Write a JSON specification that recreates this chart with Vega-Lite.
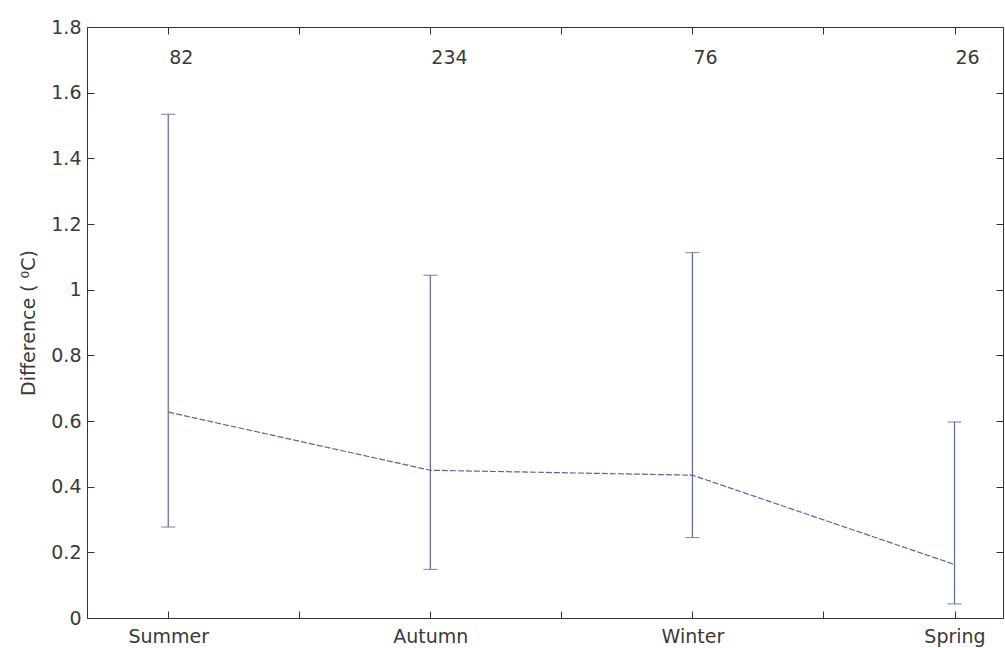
{
  "$schema": "https://vega.github.io/schema/vega-lite/v6.json",
  "width": 916,
  "height": 591,
  "autosize": {"type": "none"},
  "padding": {"left": 87, "top": 27, "right": 2, "bottom": 30},
  "background": "white",
  "config": {
    "view": {"stroke": null},
    "font": "DejaVu Sans",
    "axis": {
      "grid": false,
      "domainColor": "#333333",
      "tickColor": "#333333",
      "labelColor": "#3a3a3a",
      "labelFont": "DejaVu Sans",
      "labelFontSize": 19,
      "titleFont": "DejaVu Sans",
      "titleFontSize": 19,
      "titleFontWeight": "normal",
      "titleColor": "#3a3a3a"
    }
  },
  "data": {
    "values": [
      {"season": "Summer", "x": 1, "mean": 0.627, "lo": 0.277, "hi": 1.534, "n": "82", "ty": 1.705},
      {"season": "Autumn", "x": 2, "mean": 0.45, "lo": 0.148, "hi": 1.044, "n": "234", "ty": 1.705},
      {"season": "Winter", "x": 3, "mean": 0.435, "lo": 0.245, "hi": 1.113, "n": "76", "ty": 1.705},
      {"season": "Spring", "x": 4, "mean": 0.163, "lo": 0.043, "hi": 0.597, "n": "26", "ty": 1.705}
    ]
  },
  "resolve": {"axis": {"x": "independent", "y": "independent"}},
  "layer": [
    {
      "mark": {"type": "line", "color": "#5a6898", "strokeWidth": 1.2, "strokeDash": [6, 2]},
      "encoding": {
        "x": {
          "field": "x", "type": "quantitative",
          "scale": {"domain": [0.69, 4.185], "nice": false, "zero": false},
          "axis": {
            "orient": "bottom", "title": null,
            "values": [1, 1.5, 2, 2.5, 3, 3.5, 4],
            "labelExpr": "datum.value==1?'Summer':datum.value==2?'Autumn':datum.value==3?'Winter':datum.value==4?'Spring':''",
            "tickSize": -7, "labelPadding": 16, "labelFlush": false
          }
        },
        "y": {
          "field": "mean", "type": "quantitative",
          "scale": {"domain": [0, 1.8], "nice": false},
          "axis": {
            "orient": "left", "title": "Difference ( ⁰C)",
            "values": [0, 0.2, 0.4, 0.6, 0.8, 1, 1.2, 1.4, 1.6, 1.8],
            "format": "~g",
            "tickSize": -7, "labelPadding": 13, "titlePadding": 12, "labelFlush": false
          }
        }
      }
    },
    {
      "mark": {"type": "rule", "color": "#5a6898", "strokeWidth": 1.2},
      "encoding": {
        "x": {
          "field": "x", "type": "quantitative",
          "axis": {
            "orient": "top", "title": null, "labels": false,
            "values": [1, 1.5, 2, 2.5, 3, 3.5, 4],
            "tickSize": -7
          }
        },
        "y": {
          "field": "lo", "type": "quantitative",
          "axis": {
            "orient": "right", "title": null, "labels": false,
            "values": [0, 0.2, 0.4, 0.6, 0.8, 1, 1.2, 1.4, 1.6, 1.8],
            "tickSize": -7
          }
        },
        "y2": {"field": "hi"}
      }
    },
    {
      "mark": {"type": "tick", "orient": "horizontal", "color": "#5a6898", "size": 14, "thickness": 1.2},
      "encoding": {
        "x": {"field": "x", "type": "quantitative", "axis": null},
        "y": {"field": "lo", "type": "quantitative", "axis": null}
      }
    },
    {
      "mark": {"type": "tick", "orient": "horizontal", "color": "#5a6898", "size": 14, "thickness": 1.2},
      "encoding": {
        "x": {"field": "x", "type": "quantitative", "axis": null},
        "y": {"field": "hi", "type": "quantitative", "axis": null}
      }
    },
    {
      "mark": {"type": "text", "font": "DejaVu Sans", "fontSize": 19, "color": "#3a3a3a", "align": "left", "dx": 1},
      "encoding": {
        "x": {"field": "x", "type": "quantitative", "axis": null},
        "y": {"field": "ty", "type": "quantitative", "axis": null},
        "text": {"field": "n"}
      }
    }
  ]
}
